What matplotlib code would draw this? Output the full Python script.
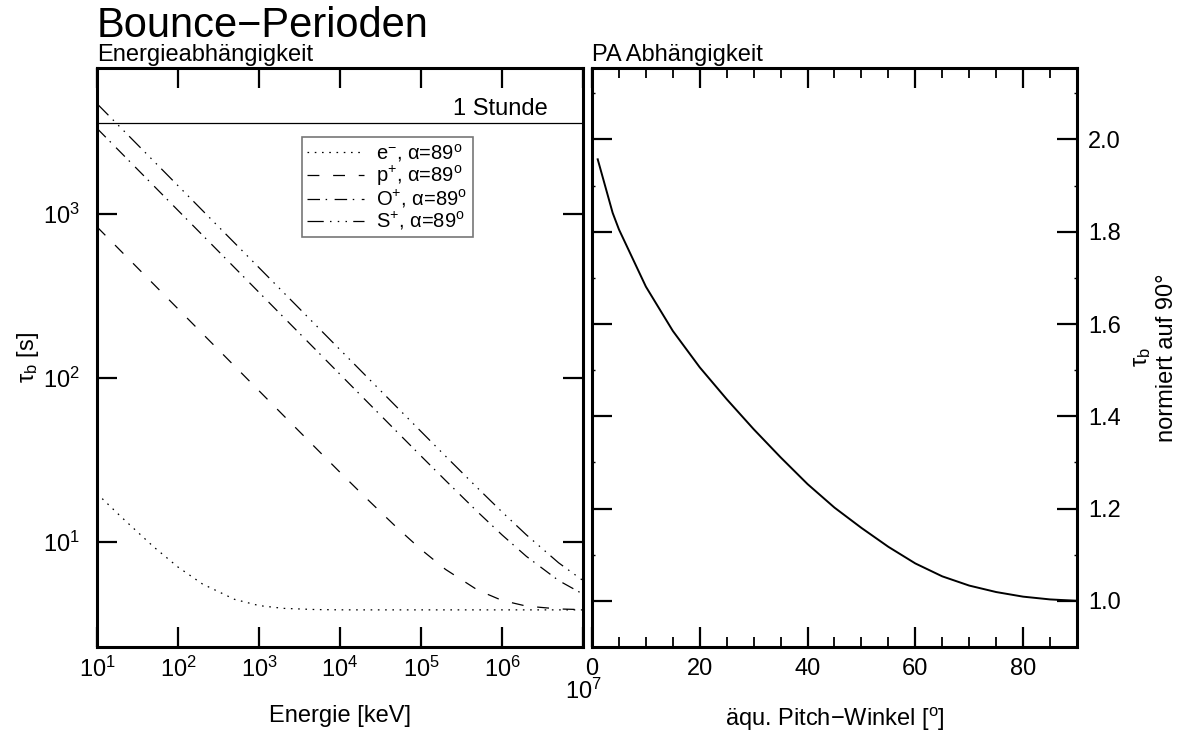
import matplotlib
matplotlib.use("Agg")
import matplotlib.pyplot as plt
from matplotlib.ticker import FixedLocator, NullLocator, MultipleLocator, FormatStrFormatter

plt.rcParams['font.family'] = ['Liberation Sans', 'DejaVu Sans']
plt.rcParams['mathtext.fontset'] = 'custom'
plt.rcParams['mathtext.rm'] = 'Liberation Sans'
plt.rcParams['mathtext.it'] = 'Liberation Sans'
plt.rcParams['mathtext.bf'] = 'Liberation Sans:bold'
plt.rcParams['mathtext.default'] = 'regular'

# energy dependence, alpha = 89 deg
energy_kev = [10, 20, 50, 100, 200, 500, 1e3, 2e3, 5e3, 1e4, 2e4, 5e4,
              1e5, 2e5, 5e5, 1e6, 2e6, 5e6, 1e7]
tau_electron = [19.8, 14.24, 9.38, 7.06, 5.57, 4.485, 4.11, 3.953, 3.887, 3.872, 3.87, 3.87,
                3.87, 3.87, 3.87, 3.87, 3.87, 3.87, 3.87]
tau_proton = [838, 592.7, 374.9, 265.1, 187.4, 118.6, 83.9, 59.36, 37.64, 26.7, 19.04, 12.32,
              9.04, 6.84, 5.11, 4.42, 4.08, 3.92, 3.884]
tau_oxygen = [3341, 2362, 1494, 1056, 747, 472.5, 334.1, 236.2, 149.4, 105.7, 74.78, 47.36,
              33.56, 23.86, 15.31, 11.09, 8.20, 5.84, 4.83]
tau_sulfur = [4725, 3341, 2113, 1494, 1056, 668.1, 472.5, 334.1, 211.3, 149.4, 105.7, 66.9,
              47.36, 33.56, 21.39, 15.31, 11.09, 7.49, 5.84]
one_hour = 3600

species_labels = [r"e$^{-}$, α=89$^{o}$", r"p$^{+}$, α=89$^{o}$",
                  r"O$^{+}$, α=89$^{o}$", r"S$^{+}$, α=89$^{o}$"]

# pitch angle dependence, normalised to 90 deg
pitch_deg = [1.06, 3.83, 5, 10, 15, 20, 25, 30, 35, 40, 45, 50,
             55, 60, 65, 70, 75, 80, 85, 90]
tau_norm = [1.957, 1.841, 1.805, 1.681, 1.585, 1.506, 1.437, 1.372, 1.311, 1.253, 1.202, 1.158,
            1.117, 1.081, 1.053, 1.033, 1.019, 1.009, 1.003, 1.000]

fig = plt.figure(figsize=(11.8, 7.31), dpi=100)
ax1 = fig.add_axes([0.0822, 0.115, 0.4119, 0.792])
ax2 = fig.add_axes([0.5017, 0.115, 0.4110, 0.792])

fs_tick = 17
fs_label = 17

styles = [(0, (1.3, 4.5)),
          (0, (9.5, 11.0)),
          (0, (10.0, 4.5, 1.2, 6.0)),
          (0, (13.0, 5.0, 1.2, 5.0, 1.2, 5.0, 1.2, 5.0))]
series = [tau_electron, tau_proton, tau_oxygen, tau_sulfur]
for vals, ls, lab in zip(series, styles, species_labels):
    ax1.plot(energy_kev, vals, color='black', lw=0.9, linestyle=ls, label=lab)

ax1.axhline(one_hour, color='black', lw=0.9)
ax1.text(0.928, one_hour * 1.05, "1 Stunde", transform=ax1.get_yaxis_transform(),
         ha='right', va='bottom', fontsize=fs_label)

ax1.set_xscale('log')
ax1.set_yscale('log')
ax1.set_xlim(10, 1e7)
ax1.set_ylim(2.3, 7800)
ax1.xaxis.set_major_locator(FixedLocator([1e1, 1e2, 1e3, 1e4, 1e5, 1e6, 1e7]))
ax1.yaxis.set_major_locator(FixedLocator([1e1, 1e2, 1e3]))
ax1.xaxis.set_minor_locator(NullLocator())
ax1.yaxis.set_minor_locator(NullLocator())
ax1.tick_params(which='major', direction='in', length=14.5, width=1.6,
                top=True, right=True, labelsize=fs_tick)
ax1.tick_params(axis='x', pad=7)
ax1.tick_params(axis='y', pad=12)
ax1.xaxis.get_major_ticks()[-1].set_pad(23)
ax1.set_xlabel("Energie [keV]", fontsize=fs_label)
ax1.xaxis.set_label_coords(0.5, -0.101)
ax1.set_ylabel(r"τ$_b$ [s]", fontsize=fs_label, labelpad=2)

leg = ax1.legend(loc='upper left', bbox_to_anchor=(0.422, 0.881), borderaxespad=0,
                 fontsize=14.5, frameon=True, fancybox=False, edgecolor='#555555',
                 handlelength=2.84, handletextpad=0.6, labelspacing=0.0,
                 borderpad=0.25)
leg.get_frame().set_linewidth(1.2)

ax2.plot(pitch_deg, tau_norm, color='black', lw=1.4)
ax2.set_xlim(0, 90)
ax2.set_ylim(0.9, 2.155)
ax2.xaxis.set_major_locator(MultipleLocator(20))
ax2.xaxis.set_minor_locator(MultipleLocator(5))
ax2.yaxis.set_major_locator(MultipleLocator(0.2))
ax2.yaxis.set_minor_locator(MultipleLocator(0.1))
ax2.yaxis.set_major_formatter(FormatStrFormatter('%.1f'))
ax2.tick_params(which='major', direction='in', length=14.5, width=1.6,
                top=True, left=True, right=True, labelleft=False, labelright=True,
                labelsize=fs_tick, pad=8)
ax2.tick_params(axis='x', which='minor', direction='in', length=7.5, width=1.3,
                top=True, bottom=True)
ax2.tick_params(axis='y', which='minor', direction='in', length=2.5, width=1.0,
                left=True, right=True)
ax2.set_xlabel(r"äqu. Pitch$-$Winkel [$^{o}$]", fontsize=fs_label)
ax2.xaxis.set_label_coords(0.5, -0.101)
ax2.yaxis.set_label_position('right')
ax2.set_ylabel("τ$_b$\nnormiert auf 90°", fontsize=fs_label, labelpad=7)

for ax in (ax1, ax2):
    for sp in ax.spines.values():
        sp.set_linewidth(2.2)

fig.text(0.0822, 1 - 37 / 731, "Bounce−Perioden", fontsize=30, ha='left', va='baseline')
fig.text(0.0822, 1 - 61 / 731, "Energieabhängigkeit", fontsize=17, ha='left', va='baseline')
fig.text(0.5017, 1 - 61 / 731, "PA Abhängigkeit", fontsize=17, ha='left', va='baseline')

fig.savefig("out.png", dpi=100)
